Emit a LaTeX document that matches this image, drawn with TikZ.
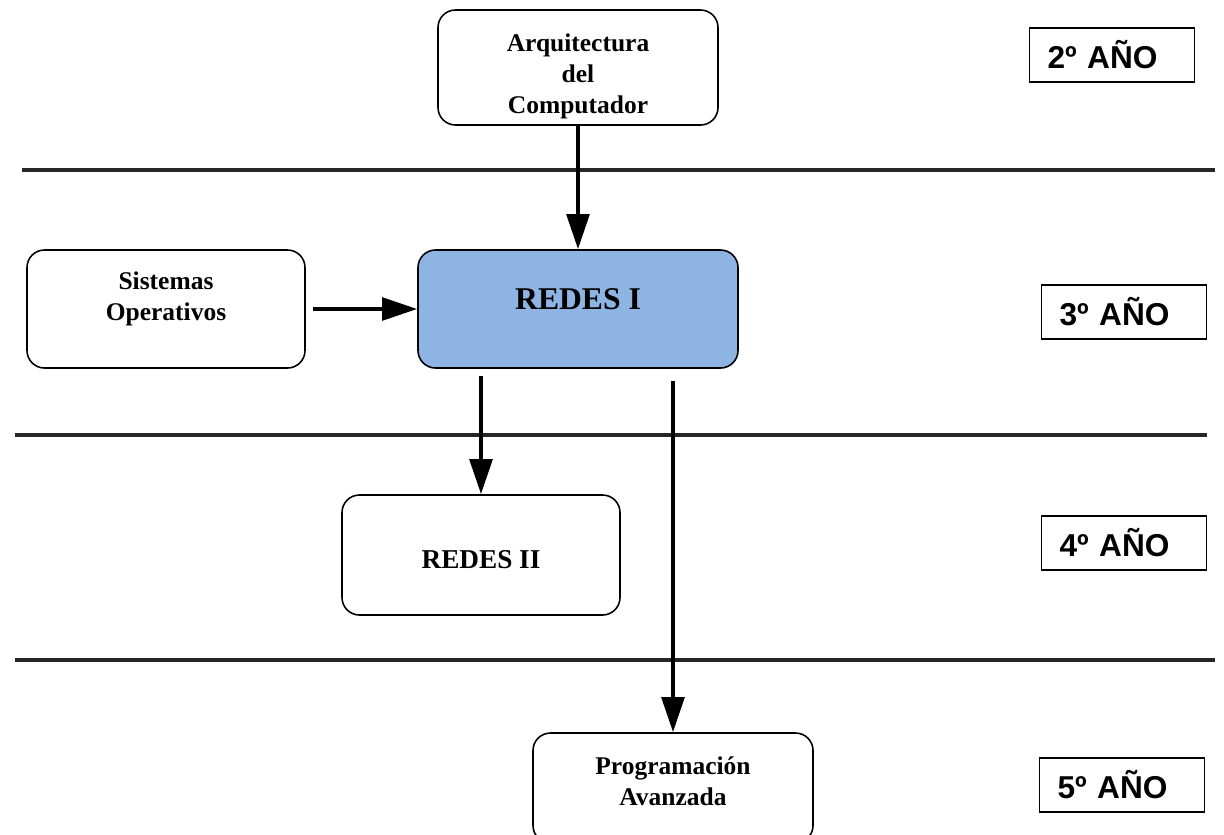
\documentclass[tikz,border=0pt]{standalone}
\usepackage{fontspec}
\setmainfont{Liberation Serif}
\newfontfamily\yearfont{Liberation Sans}
\usepackage{tikz}
\usetikzlibrary{arrows,arrows.meta,shapes,positioning}

\begin{document}
\begin{tikzpicture}[
    materia/.style = {draw, line width=0.9pt, rounded corners=0.35cm, align=center,
                      font=\bfseries\fontsize{14.5}{17.5}\selectfont},
    anio/.style = {draw, line width=1pt, minimum width=3.3cm, minimum height=1.08cm,
                   text width=2.58cm, align=left,
                   font=\yearfont\bfseries\fontsize{18}{20}\selectfont},
    flecha/.style = {-{Triangle[length=0.7cm,width=0.45cm]}, line width=2.3pt},
    division/.style = {line width=2pt, black!85}]
\useasboundingbox (0,0) rectangle (24.48,-16.68);

% materias
\node[materia, minimum width=5.6cm, minimum height=2.3cm, inner ysep=0pt, text height=1.98cm, text depth=0.16cm] (arq) at (11.56,-1.35) {Arquitectura\\del\\Computador};
\node[materia, minimum width=5.56cm, minimum height=2.36cm, text height=0.96cm, text depth=0.52cm] (sisop) at (3.32,-6.18) {Sistemas\\Operativos};
\node[materia, minimum width=6.4cm, minimum height=2.36cm, fill={rgb,255:red,142;green,180;blue,227},
      font=\bfseries\fontsize{18}{22}\selectfont, text height=0.45cm, text depth=0.45cm] (redesI) at (11.56,-6.18) {REDES I};
\node[materia, minimum width=5.56cm, minimum height=2.4cm, font=\bfseries\fontsize{15.5}{18}\selectfont,
      text height=0.6cm, text depth=0.08cm] (redesII) at (9.62,-11.1) {REDES II};
\node[materia, minimum width=5.6cm, minimum height=2.2cm, text height=0.96cm, text depth=0.28cm] (prog) at (13.46,-15.76) {Programación\\Avanzada};

% años
\node[anio] (a2) at (22.24,-1.1) {2º AÑO};
\node[anio] (a3) at (22.48,-6.24) {3º AÑO};
\node[anio] (a4) at (22.48,-10.86) {4º AÑO};
\node[anio] (a5) at (22.44,-15.7) {5º AÑO};

% divisiones
\coordinate (d1a) at (0.44,-3.4);
\coordinate (d1b) at (24.3,-3.4);
\coordinate (d2a) at (0.3,-8.7);
\coordinate (d2b) at (24.14,-8.7);
\coordinate (d3a) at (0.3,-13.2);
\coordinate (d3b) at (24.3,-13.2);
\draw[division] (d1a) -- (d1b);
\draw[division] (d2a) -- (d2b);
\draw[division] (d3a) -- (d3b);

% correlativas
\draw[flecha] (arq.south) -- (redesI.north);
\draw[flecha, shorten <=0.14cm] (sisop.east) -- (redesI.west);
\draw[flecha, shorten <=0.14cm] (redesI.south -| redesII.north) -- (redesII.north);
\draw[flecha, shorten <=0.24cm] (redesI.south -| prog.north) -- (prog.north);

\end{tikzpicture}
\end{document}
